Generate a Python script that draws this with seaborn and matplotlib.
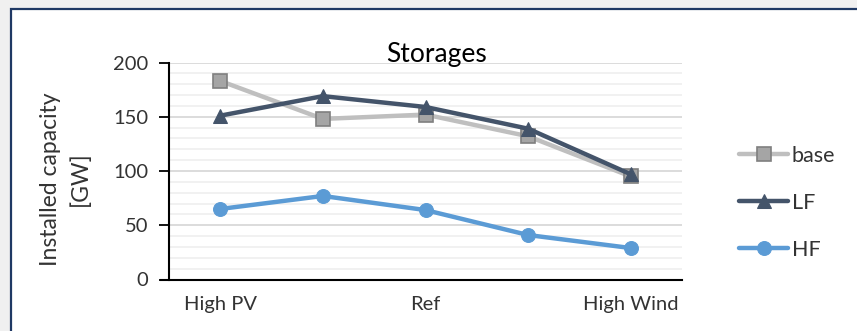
import matplotlib
matplotlib.use("Agg")
import matplotlib.pyplot as plt
from matplotlib.patches import Rectangle
from matplotlib.ticker import MultipleLocator
import seaborn as sns
import pandas as pd

# Scenario data (installed storage capacity, GW)
scenarios = ["High PV", "PV+", "Ref", "Wind+", "High Wind"]
tick_labels = ["High PV", "", "Ref", "", "High Wind"]
base = [183, 148, 152, 132, 95]
lf = [151, 169, 159, 139, 97]
hf = [65, 77, 64, 41, 29]

series_names = ["base", "LF", "HF"]
df = pd.DataFrame({
    "scenario": scenarios * 3,
    "value": base + lf + hf,
    "series": sum([[n] * len(scenarios) for n in series_names], []),
})

sns.set_theme(style="white")
plt.rcParams["font.family"] = ["Lato", "DejaVu Sans"]
TEXT = "#333333"

W, H = 857, 331
fig = plt.figure(figsize=(W / 100, H / 100), dpi=100)
fig.patch.set_facecolor("#f0f0f0")

# white chart area with dark frame
frame = Rectangle((10.5 / W, -0.05), 1.1, 1 - 8.5 / H + 0.05,
                  transform=fig.transFigure, facecolor="white",
                  edgecolor="#1f3864", linewidth=1.6, zorder=-10)
fig.patches.append(frame)

ax = fig.add_axes([169 / W, 1 - 279.5 / H, (682 - 169) / W, (279.5 - 62.5) / H])
ax.set_zorder(1)
ax.set_facecolor("none")

palette = {"base": "#bfbfbf", "LF": "#44546a", "HF": "#5b9bd5"}
markers = {"base": "s", "LF": "^", "HF": "o"}
sns.lineplot(data=df, x="scenario", y="value", hue="series", style="series",
             palette=palette, markers=markers, dashes=False, sort=False,
             linewidth=3.2, markersize=10, ax=ax, legend=False)

# marker styling per series
for line, name in zip(ax.lines, series_names):
    if name == "base":
        line.set_markerfacecolor("#a5a5a5")
        line.set_markeredgecolor("#7f7f7f")
        line.set_markeredgewidth(1.2)
        line.set_markersize(9.5)
    else:
        line.set_markerfacecolor(palette[name])
        line.set_markeredgecolor(palette[name])
    line.set_solid_capstyle("round")

ax.set_xlim(-0.5, 4.5)
ax.set_ylim(0, 200)
ax.set_xticks(range(len(scenarios)))
ax.set_xticklabels(tick_labels)
ax.yaxis.set_major_locator(MultipleLocator(50))
ax.yaxis.set_minor_locator(MultipleLocator(10))
ax.grid(axis="y", which="major", color="#d9d9d9", linewidth=1.3)
ax.grid(axis="y", which="minor", color="#ededed", linewidth=1.1)
ax.set_axisbelow(True)

for s in ["top", "right"]:
    ax.spines[s].set_visible(False)
ax.spines["left"].set_color("black")
ax.spines["bottom"].set_color("black")
ax.spines["left"].set_linewidth(1.5)
ax.spines["bottom"].set_linewidth(1.5)
ax.spines["bottom"].set_bounds(-0.58, 4.5)

ax.tick_params(axis="y", which="major", direction="out", length=7, width=1.3,
               color="black", labelsize=14.5, pad=8, left=True)
ax.tick_params(axis="y", which="minor", length=0)
ax.tick_params(axis="x", length=0, labelsize=14.5, pad=12)
for lbl in ax.get_xticklabels() + ax.get_yticklabels():
    lbl.set_color(TEXT)

ax.set_xlabel("")
ax.set_ylabel("Installed capacity\n[GW]", fontsize=16.5, color=TEXT,
              linespacing=1.5)
ax.yaxis.set_label_coords(-0.152, 0.463)
ax.set_title("Storages", fontsize=19, color="black", pad=0.5, x=0.522)

handles = ax.lines[:3]
leg = fig.legend(handles, series_names, loc="upper left",
                 bbox_to_anchor=(728 / W, 1 - 135 / H), frameon=False,
                 fontsize=15.5, handlelength=2.3, handletextpad=0.15,
                 labelspacing=1.25, borderpad=0)
for t in leg.get_texts():
    t.set_color(TEXT)

fig.savefig("out.png", dpi=100, facecolor=fig.get_facecolor())
